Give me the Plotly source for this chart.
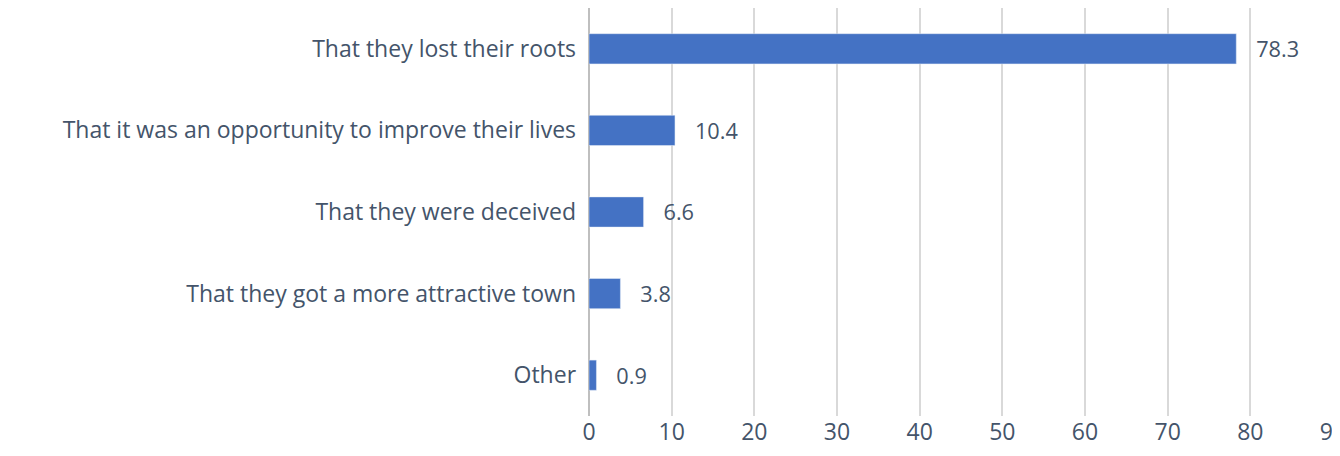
import plotly.graph_objects as go

categories = ["That they lost their roots", "That it was an opportunity to improve their lives",
              "That they were deceived", "That they got a more attractive town", "Other"]
values = [78.3, 10.4, 6.6, 3.8, 0.9]
tick_vals = list(range(0, 91, 10))

fig = go.Figure(go.Bar(
    y=categories, x=values, orientation="h", marker_color="#4472C4",
    text=[f"   {v:.1f}" for v in values], textposition="outside",
    textfont=dict(size=23, color="#44546A"), cliponaxis=False))
fig.update_layout(
    width=1340, height=456, margin=dict(l=581, r=15, t=0, b=48),
    plot_bgcolor="white", paper_bgcolor="white", bargap=0.63, showlegend=False,
    font=dict(family="Open Sans", size=23, color="#44546A"))
fig.update_xaxes(range=[0, 90], tickvals=tick_vals, showgrid=True, gridcolor="#D9D9D9",
                 gridwidth=1.5, zeroline=True, zerolinecolor="#BFBFBF", zerolinewidth=1.5,
                 ticks="", tickfont=dict(size=23), automargin=False)
fig.update_yaxes(autorange="reversed", ticks="", ticksuffix="  ", tickfont=dict(size=23),
                 automargin=False)
fig.write_html("out.html")
